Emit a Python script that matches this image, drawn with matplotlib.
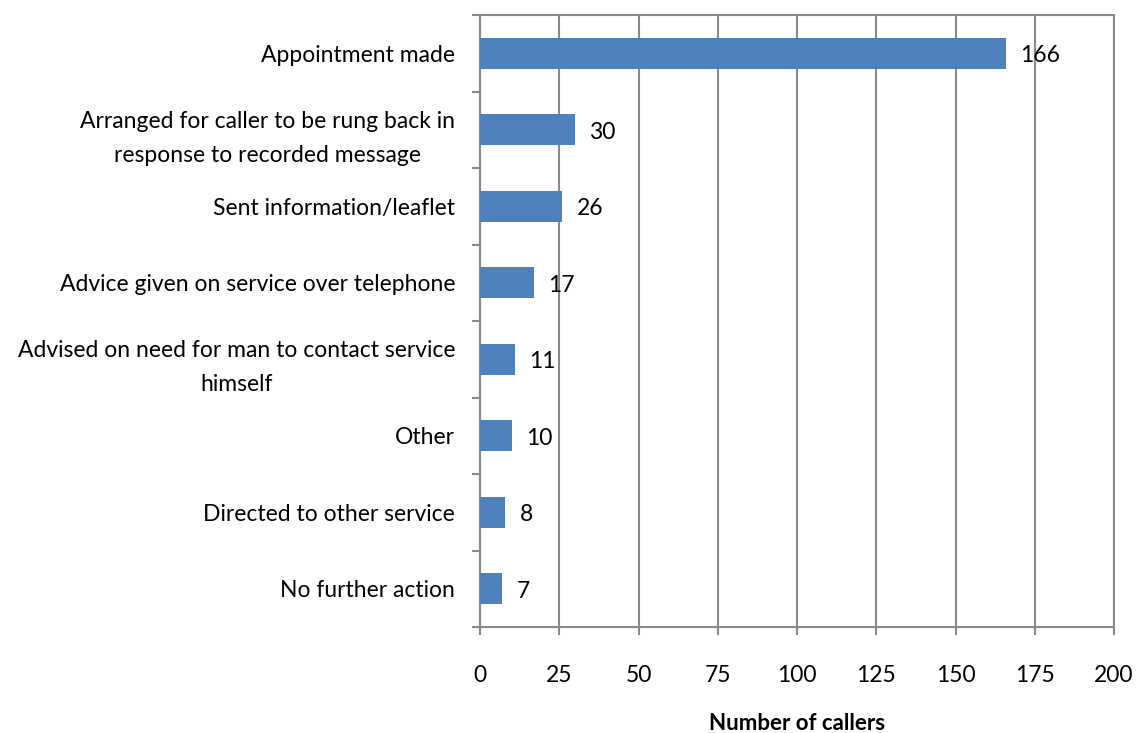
import numpy as np
import matplotlib.pyplot as plt

categories = [
    "Appointment made",
    "Arranged for caller to be rung back in\nresponse to recorded message",
    "Sent information/leaflet",
    "Advice given on service over telephone",
    "Advised on need for man to contact service\nhimself",
    "Other",
    "Directed to other service",
    "No further action",
]
values = [166, 30, 26, 17, 11, 10, 8, 7]
xticks = [0, 25, 50, 75, 100, 125, 150, 175, 200]

plt.rcParams['font.family'] = ['Lato', 'DejaVu Sans']

fig = plt.figure(figsize=(11.37, 7.33), dpi=100)
ax = fig.add_axes([480 / 1137, 1 - 627 / 733, (1114 - 480) / 1137, (627 - 15) / 733])

y = np.arange(len(categories))
ax.barh(y, values, height=0.4, color='#4F81BD', zorder=3)
for yi, v in zip(y, values):
    ax.text(v + 4.5, yi + 0.03, str(v), va='center', ha='left', fontsize=16.5, zorder=4)

ax.set_xlim(0, 200)
ax.set_ylim(len(categories) - 0.5, -0.5)
ax.set_xticks(xticks)
ax.set_xticklabels([str(t) for t in xticks], fontsize=16.5)
ax.set_yticks(y)
ax.set_yticklabels(categories, fontsize=16.5, multialignment='center', linespacing=1.75)
ax.set_yticks(np.arange(-0.5, len(categories)), minor=True)

ax.tick_params(axis='y', which='major', length=0, pad=18)
ax.tick_params(axis='y', which='minor', length=6, color='#898989', width=1.5)
ax.tick_params(axis='x', length=6, color='#898989', width=1.5, pad=21)

ax.grid(axis='x', color='#898989', linewidth=1.5, zorder=0)
for s in ax.spines.values():
    s.set_color('#898989')
    s.set_linewidth(1.5)

ax.set_xlabel('Number of callers', fontsize=16, fontweight='bold', labelpad=20)

fig.savefig('out.png', dpi=100)
